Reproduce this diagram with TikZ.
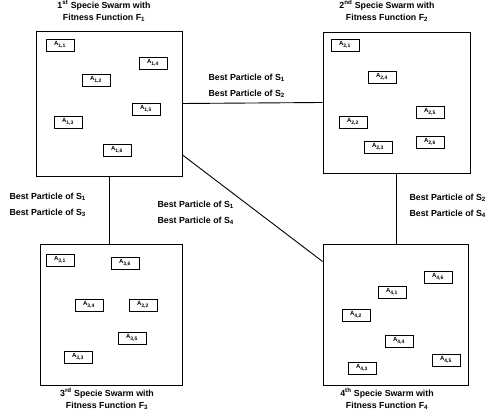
\documentclass[tikz,border=0pt]{standalone}
\usepackage{fontspec}
\setmainfont{Liberation Sans}
\begin{document}
\begin{tikzpicture}[x=1pt,y=-1pt,
  swarm/.style={draw, line width=0.9pt, inner sep=0pt},
  part/.style={draw, line width=0.8pt, minimum width=28pt, minimum height=12pt, inner sep=0pt, font=\fontsize{6}{7}\selectfont\bfseries},
  title/.style={align=center, font=\fontsize{8.8}{12}\selectfont\bfseries},
  bestlbl/.style={align=left, font=\fontsize{8.8}{16}\selectfont\bfseries},
  link/.style={line width=0.9pt}]
\useasboundingbox (0,0) rectangle (488,419);
% swarms
\node[swarm, minimum width=146pt, minimum height=145pt] (b1) at (109,103.5) {};
\node[swarm, minimum width=147pt, minimum height=141pt] (b2) at (396.5,102.5) {};
\node[swarm, minimum width=142pt, minimum height=141pt] (b3) at (111,314.5) {};
\node[swarm, minimum width=145pt, minimum height=141pt] (b4) at (395.5,314.5) {};
% titles
\node[title] (t1) at (104,11) {1\textsuperscript{st} Specie Swarm with\\Fitness Function F\textsubscript{1}};
\node[title] (t2) at (387,11) {2\textsuperscript{nd} Specie Swarm with\\Fitness Function F\textsubscript{2}};
\node[title] (t3) at (107,399) {3\textsuperscript{rd} Specie Swarm with\\Fitness Function F\textsubscript{3}};
\node[title] (t4) at (387,399) {4\textsuperscript{th} Specie Swarm with\\Fitness Function F\textsubscript{4}};
% particles swarm 1
\node[part] (p11) at (60,45) {A\textsubscript{1,1}};
\node[part] (p14) at (153,63) {A\textsubscript{1,4}};
\node[part] (p12) at (96,80) {A\textsubscript{1,2}};
\node[part] (p15) at (146,109) {A\textsubscript{1,5}};
\node[part] (p13) at (68,122) {A\textsubscript{1,3}};
\node[part] (p16) at (117,150) {A\textsubscript{1,6}};
% particles swarm 2
\node[part] (p21) at (345,45) {A\textsubscript{2,1}};
\node[part] (p24) at (382,77) {A\textsubscript{2,4}};
\node[part] (p25) at (430,112) {A\textsubscript{2,5}};
\node[part] (p22) at (353,122) {A\textsubscript{2,2}};
\node[part] (p23) at (378,147) {A\textsubscript{2,3}};
\node[part] (p26) at (430,142) {A\textsubscript{2,6}};
% particles swarm 3
\node[part] (p31) at (60,260) {A\textsubscript{3,1}};
\node[part] (p36) at (125,263) {A\textsubscript{3,6}};
\node[part] (p34) at (89,305) {A\textsubscript{3,4}};
\node[part] (p32) at (143,305) {A\textsubscript{3,2}};
\node[part] (p35) at (132,338) {A\textsubscript{3,5}};
\node[part] (p33) at (78,357) {A\textsubscript{3,3}};
% particles swarm 4
\node[part] (p46) at (438,277) {A\textsubscript{4,6}};
\node[part] (p41) at (392,292) {A\textsubscript{4,1}};
\node[part] (p42) at (356,315) {A\textsubscript{4,2}};
\node[part] (p44) at (399,341) {A\textsubscript{4,4}};
\node[part] (p45) at (446,360) {A\textsubscript{4,5}};
\node[part] (p43) at (362,368) {A\textsubscript{4,3}};
% links
\draw[link] (b1.east) -- (b2.west);
\draw[link] (b1.south) -- (b1.south |- b3.north);
\draw[link] (b2.south) -- (b2.south |- b4.north);
\draw[link] (b1.-35) -- (b4.144);
% link labels
\node[bestlbl, anchor=west] (l12) at (205,86) {Best Particle of S\textsubscript{1}\\Best Particle of S\textsubscript{2}};
\node[bestlbl, anchor=west] (l13) at (6,205) {Best Particle of S\textsubscript{1}\\Best Particle of S\textsubscript{3}};
\node[bestlbl, anchor=west] (l14) at (154,213) {Best Particle of S\textsubscript{1}\\Best Particle of S\textsubscript{4}};
\node[bestlbl, anchor=west] (l24) at (406,206) {Best Particle of S\textsubscript{2}\\Best Particle of S\textsubscript{4}};
\end{tikzpicture}
\end{document}
